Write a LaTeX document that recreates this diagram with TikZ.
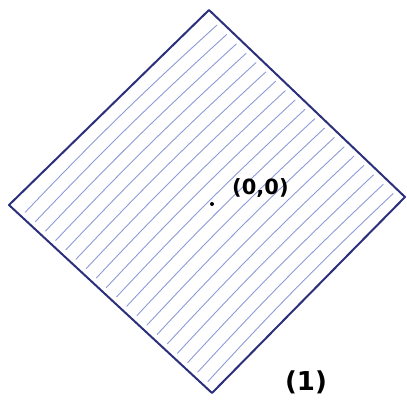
\documentclass[tikz,border=0pt]{standalone}
\usepackage{fontspec}
\setmainfont{DejaVu Sans}
\usetikzlibrary{calc}
\definecolor{edgeblue}{HTML}{2B2F7C}
\definecolor{hatchblue}{HTML}{8E9AD6}
\tikzset{
  edge/.style={draw=edgeblue, line width=2pt, line cap=round, line join=round},
  hatch/.style={draw=hatchblue, line width=0.9pt, line cap=round},
  lbl/.style={font=\fontsize{21}{21}\selectfont\bfseries, text=black, inner sep=0pt}
}
\begin{document}
\begin{tikzpicture}[x=1pt,y=-1pt]
\useasboundingbox (0,0) rectangle (407,405);
\coordinate (T) at (209,10);
\coordinate (R) at (405,197);
\coordinate (B) at (212,393);
\coordinate (L) at (9,205);
\foreach \t in {0.06,0.11,...,1.0}{
  \draw[hatch] ($(L)!\t!(B)+(4,-4)$) to[bend left=2] ($(T)!\t!(R)+(-4,4)$);
}
\draw[edge] (L) -- (T) -- (R) -- (B) -- cycle;
\fill (212,204) circle (2pt);
\node[lbl, anchor=west] (o) at (232,188) {(0,0)};
\node[lbl, font=\fontsize{26}{26}\selectfont\bfseries] (one) at (306,382) {(1)};
\end{tikzpicture}
\end{document}
